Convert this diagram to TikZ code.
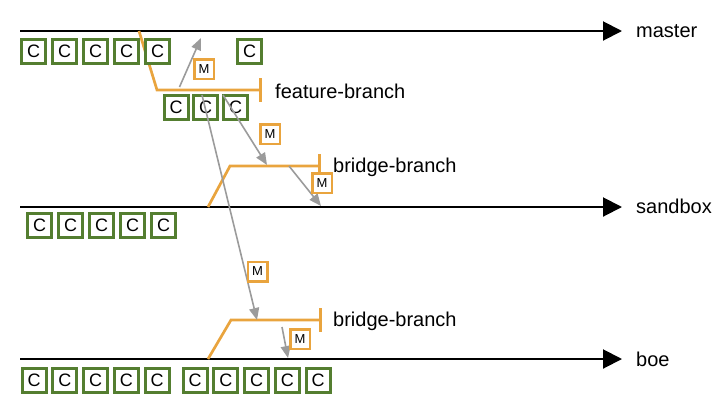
\documentclass[tikz,border=0pt]{standalone}
\usepackage{fontspec}
\setmainfont{Liberation Sans}
\usetikzlibrary{arrows.meta}
\definecolor{cgreen}{RGB}{84,126,48}
\definecolor{corange}{RGB}{233,164,62}
\definecolor{cgray}{RGB}{155,155,155}
\begin{document}
\begin{tikzpicture}[x=1pt,y=-1pt,
  cbox/.style={draw=cgreen, line width=3pt, fill=white, minimum size=24pt, inner sep=0pt, font=\fontsize{18}{18}\selectfont},
  mbox/.style={draw=corange, line width=2.5pt, fill=white, minimum size=19.5pt, inner sep=0pt, font=\fontsize{13}{13}\selectfont},
  lane/.style={line width=2pt, -{Triangle[length=19pt,width=19pt]}},
  branch/.style={draw=corange, line width=2.7pt, -{Bar[width=24pt]}},
  merge/.style={draw=cgray, line width=1.6pt, -{Triangle[length=12pt,width=10pt]}},
  lbl/.style={anchor=base west, inner sep=0pt, font=\fontsize{20}{20}\selectfont}]
\useasboundingbox (0,0) rectangle (720,408);

% lanes
\coordinate (m0) at (20,31);  \coordinate (m1) at (622,31);
\coordinate (s0) at (20,207); \coordinate (s1) at (622,207);
\coordinate (b0) at (20,359); \coordinate (b1) at (622,359);
\draw[lane] (m0) -- (m1);
\draw[lane] (s0) -- (s1);
\draw[lane] (b0) -- (b1);
\node[lbl] (mlab) at (636,37) {master};
\node[lbl] (slab) at (636,213) {sandbox};
\node[lbl] (blab) at (636,366) {boe};

% branches
\coordinate (fa) at (139,31); \coordinate (fb) at (157,90); \coordinate (fc) at (262,90);
\draw[branch] (fa) -- (fb) -- (fc);
\node[lbl] (flab) at (275,98) {feature-branch};
\coordinate (sa) at (208,207); \coordinate (sb) at (230,166); \coordinate (sc) at (321,166);
\draw[branch] (sa) -- (sb) -- (sc);
\node[lbl] (sblab) at (333,172) {bridge-branch};
\coordinate (ba) at (208,359); \coordinate (bb) at (231,320); \coordinate (bc) at (322,320);
\draw[branch] (ba) -- (bb) -- (bc);
\node[lbl] (bblab) at (333,326) {bridge-branch};

% master commits
\foreach \i/\x in {1/33.5,2/64.5,3/95.5,4/126.5,5/157.5}
  \node[cbox] (mc\i) at (\x,51.5) {C};
\node[cbox] (mc6) at (249.5,51) {C};
% feature commits
\foreach \i/\x in {1/176,2/205.5,3/235.5}
  \node[cbox] (fc\i) at (\x,107) {C};
% sandbox commits
\foreach \i/\x in {1/39.5,2/70.5,3/101.5,4/132.5,5/163.5}
  \node[cbox] (sc\i) at (\x,225) {C};
% boe commits
\foreach \i/\x in {1/34,2/64.8,3/95.6,4/126.4,5/157.2,6/195,7/225.75,8/256.5,9/287.25,10/318}
  \node[cbox] (bc\i) at (\x,380.5) {C};

% merge arrows
\coordinate (a1s) at (179.5,87); \coordinate (a1e) at (201,38);
\coordinate (a2s) at (202,95);   \coordinate (a2e) at (257,320);
\coordinate (a3s) at (223,95);   \coordinate (a3e) at (267,165);
\coordinate (a4s) at (289,166);  \coordinate (a4e) at (321,206);
\coordinate (a5s) at (282,327);  \coordinate (a5e) at (288,358);
\draw[merge] (a1s) -- (a1e);
\draw[merge] (a2s) -- (a2e);
\draw[merge] (a3s) -- (a3e);
\draw[merge] (a4s) -- (a4e);
\draw[merge] (a5s) -- (a5e);

% merge markers
\node[mbox] (mm1) at (204,69) {M};
\node[mbox] (mm2) at (270,134) {M};
\node[mbox] (mm3) at (322,183) {M};
\node[mbox] (mm4) at (257.5,271.5) {M};
\node[mbox] (mm5) at (300,339) {M};
\end{tikzpicture}
\end{document}
